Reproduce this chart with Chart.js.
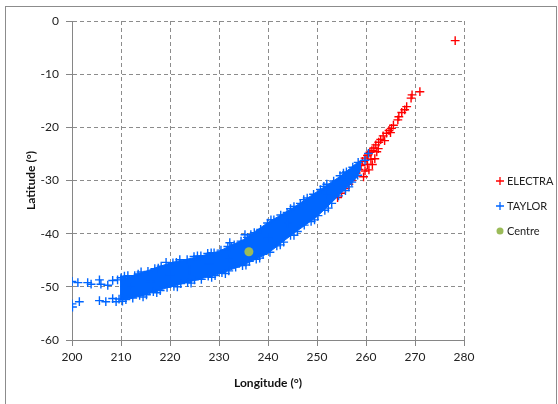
<!DOCTYPE html>
<html>
<head>
<meta charset="utf-8">
<script src="https://cdn.jsdelivr.net/npm/chart.js@4.4.1/dist/chart.umd.min.js"></script>
<style>
  body { margin: 0; background: #fff; }
  canvas { display: block; }
</style>
</head>
<body>
<canvas id="trackChart" width="558" height="404"></canvas>
<script>
// longitude (deg), latitude (deg)
const electraPoints = [
  [278.2,-3.7],[271.0,-13.3],[269.4,-13.9],[269.2,-14.5],[268.3,-16.1],[267.9,-16.7],
  [267.3,-17.2],[266.7,-18.0],[266.5,-18.6],[265.6,-19.6],[265.2,-20.2],[264.7,-20.6],
  [264.2,-21.1],[263.5,-21.6],[263.0,-22.3],[262.6,-22.8],[262.0,-23.3],[261.6,-23.9],
  [261.2,-24.4],[260.8,-24.7],[260.3,-25.3],[259.8,-25.8],[259.3,-26.4],[259.0,-27.2],
  [258.6,-27.9],[258.0,-28.6],[257.6,-29.2],[257.0,-30.0],[256.5,-30.7],[255.8,-31.5],
  [255.0,-32.4],[254.2,-33.2],[261.0,-26.0],[260.3,-27.0],[262.5,-24.0],[263.8,-22.5],
  [265.0,-21.0],[259.8,-28.2],[261.8,-25.9],[262.2,-24.6],[261.3,-27.0],[260.6,-28.0],
  [259.5,-29.3],[211.2,-50.4]
];

const taylorPoints = [
  // upper edge
  [210.0,-48.3],[211.4,-47.9],[212.8,-47.9],[214.1,-47.2],[215.5,-47.1],[216.9,-46.6],
  [218.2,-46.1],[219.2,-45.4],[220.6,-45.5],[222.0,-44.9],[223.5,-44.9],[224.9,-44.3],
  [226.3,-44.2],[227.7,-43.7],[229.0,-43.6],[230.4,-43.1],[231.8,-42.4],[233.1,-42.1],
  [234.5,-41.4],[235.8,-40.7],[237.2,-39.8],[238.5,-39.2],[239.9,-38.0],[241.2,-37.4],
  [242.6,-36.5],[243.9,-36.0],[245.3,-34.9],[246.6,-34.3],[248.0,-33.3],[249.3,-32.6],
  [250.7,-31.7],[252.0,-30.7],[253.4,-30.1],[254.7,-29.1],[256.0,-28.4],[257.3,-27.5],
  [258.4,-26.6],[210.7,-48.0],[213.5,-47.6],[217.6,-46.5],[221.3,-45.4],[225.6,-44.2],
  [228.4,-43.6],[232.5,-42.5],[236.5,-40.2],[240.6,-37.4],[244.6,-35.3],[247.3,-33.6],
  [251.4,-31.1],[255.4,-28.6],
  // lower edge
  [209.6,-52.3],[211.0,-52.4],[212.4,-52.1],[213.8,-51.6],[215.2,-51.5],[216.6,-50.9],
  [218.0,-50.7],[219.4,-50.1],[220.8,-49.9],[222.2,-49.4],[223.6,-49.2],[225.0,-48.7],
  [226.4,-48.6],[227.8,-48.0],[229.2,-47.9],[230.6,-47.3],[232.0,-47.0],[233.4,-46.3],
  [234.8,-46.0],[236.2,-45.2],[237.6,-44.8],[239.0,-43.9],[240.4,-43.5],[241.8,-42.3],
  [243.2,-41.6],[244.6,-40.3],[246.0,-39.6],[247.4,-38.4],[248.8,-37.7],[250.2,-36.6],
  [251.6,-35.6],[253.0,-34.3],[254.4,-32.9],[255.8,-31.9],[257.1,-30.3],[258.3,-29.0],
  [210.3,-52.7],[214.5,-51.9],[217.3,-51.1],[221.5,-50.0],[224.3,-49.3],[228.5,-48.2],
  [231.3,-47.5],[235.5,-45.9],[238.3,-44.6],[242.5,-42.1],[245.3,-40.3],[249.5,-37.4],
  [252.3,-35.2],[256.5,-31.2],
  // middle
  [212.0,-50.0],[216.0,-49.0],[220.0,-47.8],[224.0,-46.8],[228.0,-45.7],[232.0,-44.6],
  [236.0,-43.0],[240.0,-40.8],[244.0,-38.0],[248.0,-35.3],[252.0,-32.7],[256.0,-29.8],
  // stragglers
  [200.0,-49.0],[201.2,-49.2],[203.2,-49.2],[203.9,-49.5],[205.6,-48.7],[205.9,-49.5],
  [207.3,-49.7],[208.3,-48.8],[209.3,-48.7],[200.0,-53.2],[200.1,-53.8],[201.5,-52.8],
  [205.6,-52.6],[206.9,-52.8],[208.3,-52.2],[209.0,-52.8],[232.2,-41.7],[235.3,-40.2],
  [260.5,-24.9],[259.8,-26.2]
];

const centrePoint = [[236.1,-43.4]];

// solid part of the TAYLOR cloud
const taylorBandUpper = [
  [209.8,-48.5],[212,-48.0],[215,-47.1],[220,-45.5],[225,-44.5],[230,-43.3],[235,-41.1],
  [240,-37.9],[245,-35.2],[250,-32.1],[254.6,-29.3],[258,-26.8],[259,-26.2]
];
const taylorBandLower = [
  [209.8,-52.5],[212,-52.2],[215,-51.5],[220,-50.0],[225,-48.8],[230,-47.6],[235,-45.9],
  [240,-43.7],[245,-40.1],[250,-36.8],[254.6,-32.7],[258,-29.6],[259,-27.8]
];

const lonRange = [200, 280];
const latRange = [-60, 0];
const seriesNames = ["ELECTRA", "TAYLOR", "Centre"];

const RED = "#ff0000";
const BLUE = "rgb(0,102,255)";
const GREEN = "#9bbb59";

const toXY = (arr) => arr.map((p) => ({ x: p[0], y: p[1] }));

const framePlugin = {
  id: "frame",
  beforeDraw(chart) {
    const ctx = chart.ctx;
    ctx.save();
    ctx.fillStyle = "#fff";
    ctx.fillRect(0, 0, chart.width, chart.height);
    ctx.strokeStyle = "#8c8c8c";
    ctx.lineWidth = 1;
    ctx.strokeRect(5.5, 6.5, 551, 410);
    ctx.restore();
  }
};

const legendPlugin = {
  id: "sideLegend",
  afterDraw(chart) {
    const ctx = chart.ctx;
    const area = chart.chartArea;
    const x = area.right + 36;
    let y = area.top + 160;
    ctx.save();
    ctx.font = "11px Lato";
    ctx.textBaseline = "middle";
    ctx.textAlign = "left";
    seriesNames.forEach((name, i) => {
      const ds = chart.data.datasets[i];
      if (ds.pointStyle === "cross") {
        ctx.strokeStyle = ds.borderColor;
        ctx.lineWidth = 1.3;
        ctx.beginPath();
        ctx.moveTo(x - 4, y); ctx.lineTo(x + 4, y);
        ctx.moveTo(x, y - 4); ctx.lineTo(x, y + 4);
        ctx.stroke();
      } else {
        ctx.fillStyle = ds.backgroundColor;
        ctx.beginPath();
        ctx.arc(x, y, 3.5, 0, Math.PI * 2);
        ctx.fill();
      }
      ctx.fillStyle = "#222";
      ctx.fillText(name, x + 7, y);
      y += 25;
    });
    ctx.restore();
  }
};

new Chart(document.getElementById("trackChart"), {
  type: "scatter",
  data: {
    datasets: [
      {
        label: seriesNames[0],
        data: toXY(electraPoints),
        pointStyle: "cross",
        pointRadius: 4.4,
        borderColor: RED,
        backgroundColor: RED,
        borderWidth: 1.4,
        order: 3
      },
      {
        label: seriesNames[1],
        data: toXY(taylorPoints),
        pointStyle: "cross",
        pointRadius: 4.4,
        borderColor: BLUE,
        backgroundColor: BLUE,
        borderWidth: 1.4,
        order: 1
      },
      {
        label: seriesNames[2],
        data: toXY(centrePoint),
        pointStyle: "circle",
        pointRadius: 4.5,
        borderWidth: 0,
        borderColor: GREEN,
        backgroundColor: GREEN,
        order: 0
      },
      {
        type: "line",
        label: "band upper",
        data: toXY(taylorBandUpper),
        borderColor: BLUE,
        backgroundColor: BLUE,
        borderWidth: 1,
        pointRadius: 0,
        fill: "+1",
        order: 2
      },
      {
        type: "line",
        label: "band lower",
        data: toXY(taylorBandLower),
        borderColor: BLUE,
        backgroundColor: BLUE,
        borderWidth: 1,
        pointRadius: 0,
        fill: false,
        order: 2
      }
    ]
  },
  options: {
    responsive: false,
    animation: false,
    events: [],
    layout: {
      padding: { top: 21, right: 94, left: 0, bottom: 0 }
    },
    plugins: {
      legend: { display: false },
      tooltip: { enabled: false }
    },
    scales: {
      x: {
        type: "linear",
        min: lonRange[0],
        max: lonRange[1],
        afterFit: (scale) => { scale.height = 64; },
        ticks: {
          stepSize: 10,
          color: "#222",
          font: { family: "Lato", size: 12 },
          padding: 4,
          maxRotation: 0
        },
        grid: { color: "#8c8c8c", tickColor: "#868686", tickLength: 6 },
        border: { color: "#868686", width: 1, dash: [4, 3] },
        title: {
          display: true,
          text: "Longitude (°)",
          color: "#111",
          font: { family: "Lato", size: 12, weight: "bold" },
          padding: { top: 0, bottom: 14 }
        }
      },
      y: {
        type: "linear",
        min: latRange[0],
        max: latRange[1],
        afterFit: (scale) => { scale.width = 72; },
        ticks: {
          stepSize: 10,
          color: "#222",
          font: { family: "Lato", size: 12 },
          padding: 7
        },
        grid: { color: "#8c8c8c", tickColor: "#868686", tickLength: 6 },
        border: { color: "#868686", width: 1, dash: [4, 3] },
        title: {
          display: true,
          text: "Latitude (°)",
          color: "#111",
          font: { family: "Lato", size: 12, weight: "bold" },
          padding: { top: 24, bottom: 0 }
        }
      }
    }
  },
  plugins: [framePlugin, legendPlugin]
});
</script>
</body>
</html>
